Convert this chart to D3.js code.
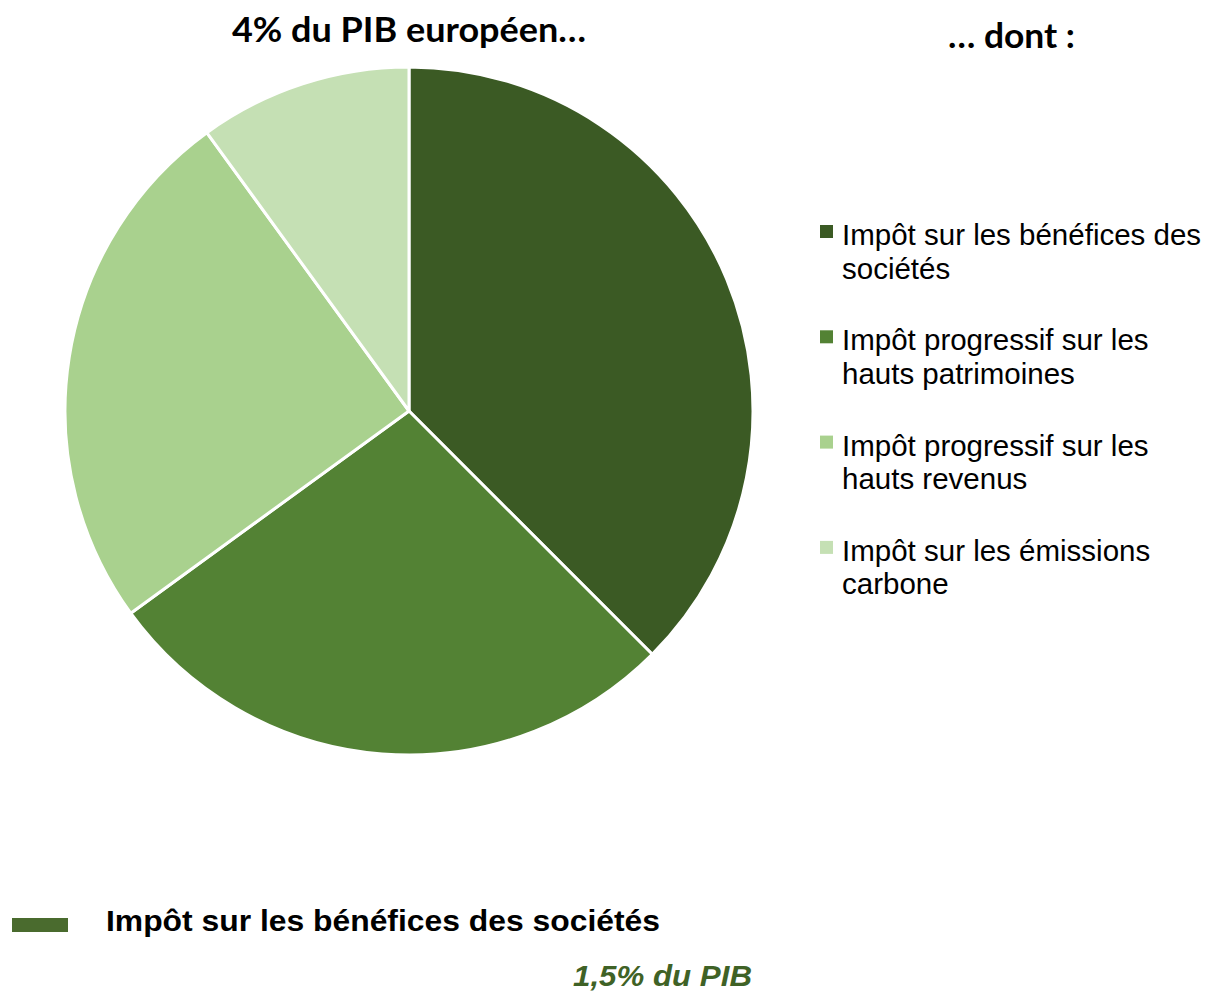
<!DOCTYPE html>
<html>
<head>
<meta charset="utf-8">
<script src="https://cdn.jsdelivr.net/npm/d3@7"></script>
<style>
  body { margin: 0; background: #fff; }
</style>
</head>
<body>
<div id="container"></div>
<script>
const width = 1208;
const height = 991;

// données : part du PIB européen (en %)
const categories = [
  "Impôt sur les bénéfices des sociétés",
  "Impôt progressif sur les hauts patrimoines",
  "Impôt progressif sur les hauts revenus",
  "Impôt sur les émissions carbone"
];
const legendLines = [
  ["Impôt sur les bénéfices des", "sociétés"],
  ["Impôt progressif sur les", "hauts patrimoines"],
  ["Impôt progressif sur les", "hauts revenus"],
  ["Impôt sur les émissions", "carbone"]
];
const values = [1.5, 1.1, 1.0, 0.4];
const colors = ["#3B5A24", "#538234", "#A9D18E", "#C5E0B4"];

const svg = d3
  .select("#container")
  .append("svg")
  .attr("width", width)
  .attr("height", height);

// camembert
const pie = d3.pie().sort(null).value((d) => d);
const arc = d3.arc().innerRadius(0).outerRadius(344);
const color = d3.scaleOrdinal().domain(categories).range(colors);

svg
  .append("g")
  .attr("transform", "translate(409,411)")
  .selectAll("path")
  .data(pie(values))
  .enter()
  .append("path")
  .attr("d", arc)
  .attr("fill", (d, i) => color(categories[i]))
  .attr("stroke", "#fff")
  .attr("stroke-width", 3)
  .attr("stroke-linejoin", "round");

// titres
svg.append("text")
  .attr("x", 232).attr("y", 42)
  .attr("textLength", 354)
  .attr("lengthAdjust", "spacingAndGlyphs")
  .style("font-family", "Lato, 'Open Sans', sans-serif")
  .style("font-weight", "bold")
  .style("font-size", "34px")
  .text("4% du PIB européen…");

svg.append("text")
  .attr("x", 948).attr("y", 48)
  .attr("textLength", 127)
  .attr("lengthAdjust", "spacingAndGlyphs")
  .style("font-family", "Lato, 'Open Sans', sans-serif")
  .style("font-weight", "bold")
  .style("font-size", "34px")
  .text("… dont :");

// légende
const legend = svg.append("g")
  .selectAll("g")
  .data(categories)
  .enter()
  .append("g")
  .attr("transform", (d, i) => `translate(820,${233 + i * 105.3})`);

legend.append("rect")
  .attr("x", 0).attr("y", -8)
  .attr("width", 13).attr("height", 13)
  .attr("fill", (d) => color(d));

legend.append("text")
  .attr("x", 22).attr("y", 12)
  .style("font-family", "'Liberation Sans', Arial, sans-serif")
  .style("font-size", "29.5px")
  .attr("fill", "#000")
  .selectAll("tspan")
  .data((d, i) => legendLines[i])
  .enter()
  .append("tspan")
  .attr("x", 22)
  .attr("dy", (d, j) => (j === 0 ? 0 : 33.5))
  .text((d) => d);

// encart du bas
svg.append("rect")
  .attr("x", 12).attr("y", 918)
  .attr("width", 56).attr("height", 14)
  .attr("fill", "#4A6B2E");

svg.append("text")
  .attr("x", 106).attr("y", 931)
  .attr("textLength", 554)
  .attr("lengthAdjust", "spacingAndGlyphs")
  .style("font-family", "'Liberation Sans', Arial, sans-serif")
  .style("font-weight", "bold")
  .style("font-size", "30px")
  .text(categories[0]);

svg.append("text")
  .attr("x", 573).attr("y", 986)
  .attr("textLength", 179)
  .attr("lengthAdjust", "spacingAndGlyphs")
  .style("font-family", "'Liberation Sans', Arial, sans-serif")
  .style("font-weight", "bold")
  .style("font-style", "italic")
  .style("font-size", "30px")
  .attr("fill", "#3F6226")
  .text(values[0].toString().replace(".", ",") + "% du PIB");
</script>
</body>
</html>
